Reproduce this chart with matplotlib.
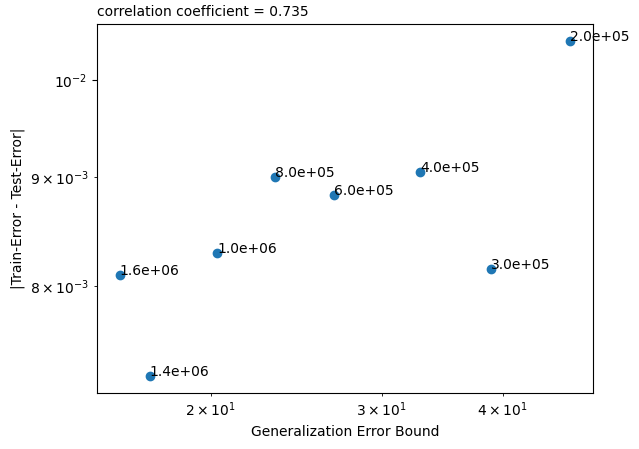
import numpy as np
import matplotlib
matplotlib.use('Agg')
import matplotlib.pyplot as plt

# ---------------------------- data ----------------------------
gen_bound = [47.0, 32.9, 38.9, 26.8, 23.3, 20.3, 17.3, 16.1]
gap = [0.01043, 0.00905, 0.00815, 0.00883, 0.00900, 0.00829, 0.00726, 0.00810]
sizes = [2.0e5, 4.0e5, 3.0e5, 6.0e5, 8.0e5, 1.0e6, 1.4e6, 1.6e6]
corr = 0.735

# ---------------------------- plotting ----------------------------
fig = plt.figure(figsize=(6.39, 4.49), dpi=100)
ax = fig.add_subplot(111)
fig.subplots_adjust(left=0.152, right=0.928, top=0.9465, bottom=0.1247)

ax.scatter(gen_bound, gap)
for x, y, s in zip(gen_bound, gap, sizes):
    ax.annotate("%.1e" % s, (x, y))
ax.set_xscale('log')
ax.set_yscale('log')
ax.set_xlabel("Generalization Error Bound")
ax.set_ylabel("|Train-Error - Test-Error|")
ax.set_title("correlation coefficient = %.3f" % corr, loc='left', fontsize=10)
plt.savefig('out.png')
